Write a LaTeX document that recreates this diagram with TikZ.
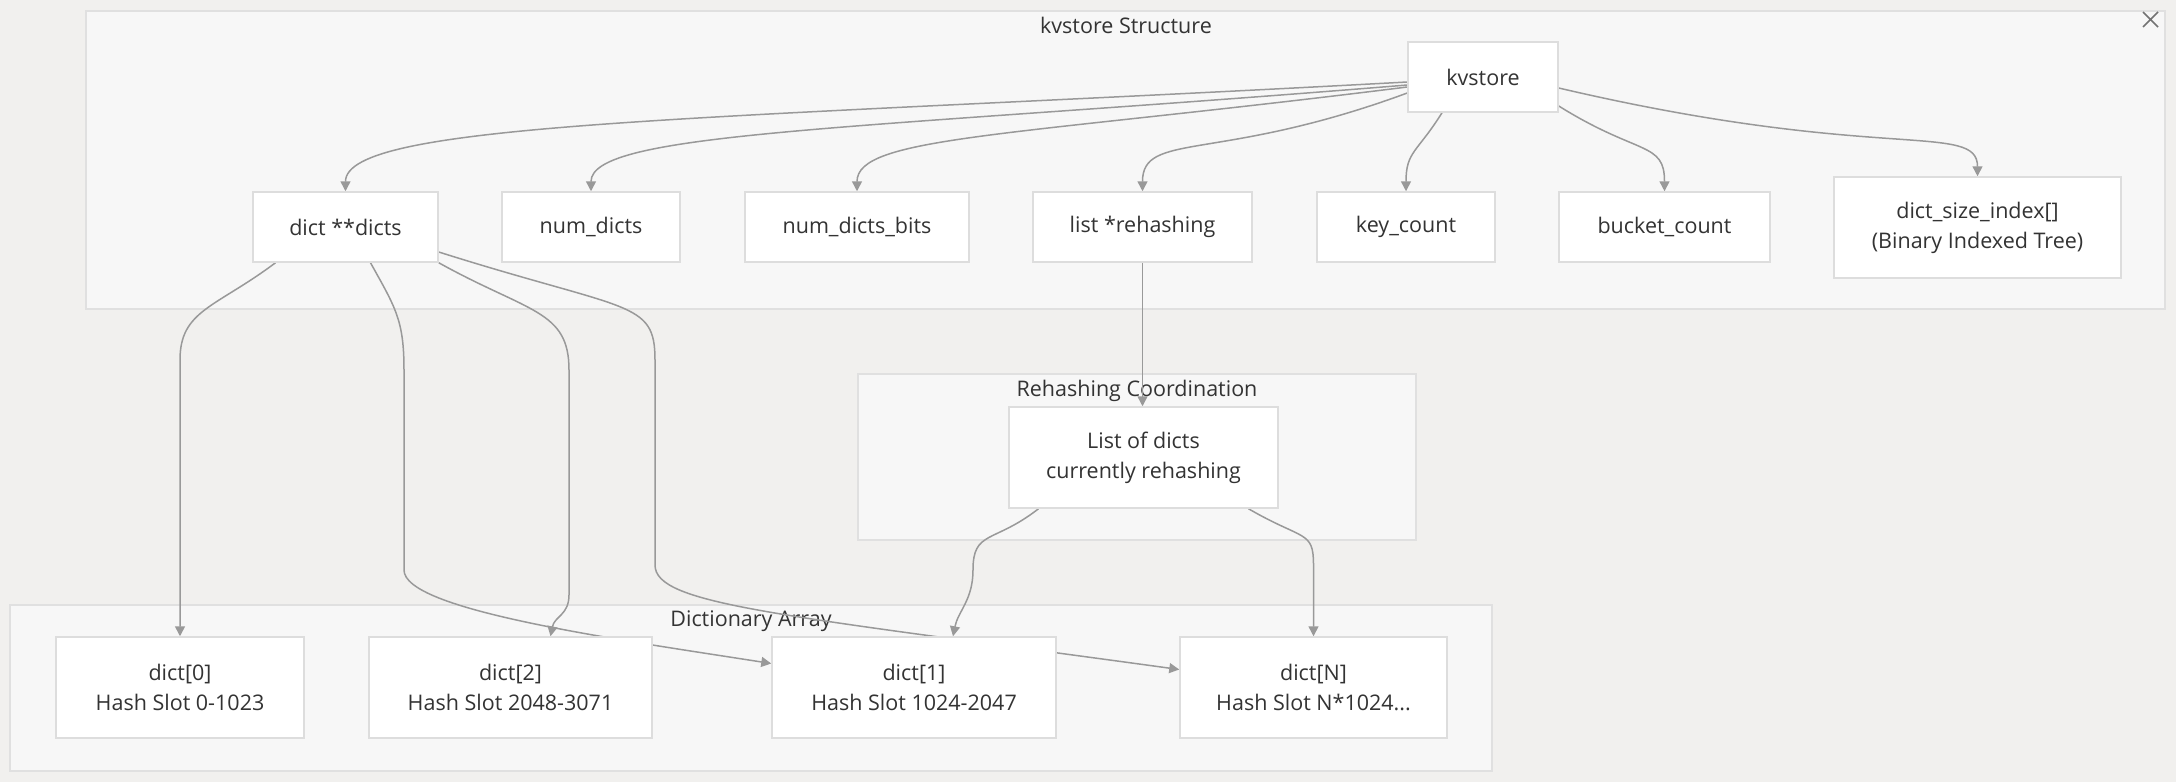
\documentclass[tikz,border=0pt]{standalone}
\usepackage{fontspec}
\setmainfont{Open Sans}
\usepackage{tikz}
\usetikzlibrary{calc,positioning}
\usetikzlibrary{arrows.meta}
\pgfdeclarelayer{boxes}
\pgfdeclarelayer{links}
\pgfsetlayers{boxes,links,main}
\definecolor{pagebg}{HTML}{F1F0EE}
\definecolor{clusterbg}{HTML}{F7F7F7}
\definecolor{clusterln}{HTML}{E0E0E0}
\definecolor{nodeln}{HTML}{DDDDDD}
\definecolor{linkc}{HTML}{999999}
\definecolor{txt}{HTML}{333333}
\tikzset{>={Triangle[length=10pt,width=10pt]}}

\begin{document}
\begin{tikzpicture}[x=1pt,y=-1pt,font=\fontsize{21.5}{30}\selectfont,text=txt]
          \tikzstyle{box} = [draw=nodeln, line width=1.5pt, fill=white, rectangle, inner sep=0pt, align=center, minimum height=70]
          \tikzstyle{tallbox} = [box, minimum height=101]
          \tikzstyle{cluster} = [draw=clusterln, line width=2pt, fill=clusterbg]
          \tikzstyle{link} = [draw=linkc, line width=1.5pt, ->]

          \begin{pgfonlayer}{boxes}
            \fill[pagebg] (0,0) rectangle (2176,782);
            \draw[cluster] (86,11) rectangle (2165,309);
            \draw[cluster] (858,374) rectangle (1416,540);
            \draw[cluster] (10,605) rectangle (1492,771);
            \node (kvtitle) at (1126,25) {kvstore Structure};
            \node (rhtitle) at (1137,391) {Rehashing Coordination};
            \node (datitle) at (751,621) {Dictionary Array};
            \draw[draw=black!55, line width=1.5pt] (2143,12) -- (2158,27) (2143,27) -- (2158,12);
          \end{pgfonlayer}
          \useasboundingbox (0,0) rectangle (2176,782);

          % kvstore fields
          \node[box, minimum width=150] (kv) at (1483,77) {kvstore};
          \node[box, minimum width=185] (dicts) at (345.5,227) {dict **dicts};
          \node[box, minimum width=178] (numd) at (591,227) {num\_dicts};
          \node[box, minimum width=224] (numb) at (857,227) {num\_dicts\_bits};
          \node[box, minimum width=219] (rehash) at (1142.5,227) {list *rehashing};
          \node[box, minimum width=178] (keyc) at (1406,227) {key\_count};
          \node[box, minimum width=211] (buckc) at (1664.5,227) {bucket\_count};
          \node[tallbox, minimum width=287] (sizeidx) at (1977.5,227.5) {dict\_size\_index[]\\(Binary Indexed Tree)};

          \node[tallbox, minimum width=269] (listd) at (1143.5,457.5) {List of dicts\\currently rehashing};

          % dictionary array
          \node[tallbox, minimum width=248] (d0) at (180,687.5) {dict[0]\\Hash Slot 0-1023};
          \node[tallbox, minimum width=283] (d2) at (510.5,687.5) {dict[2]\\Hash Slot 2048-3071};
          \node[tallbox, minimum width=284] (d1) at (914,687.5) {dict[1]\\Hash Slot 1024-2047};
          \node[tallbox, minimum width=267] (dN) at (1313.5,687.5) {dict[N]\\Hash Slot N*1024...};

          \begin{pgfonlayer}{links}
            \draw[link] ($(kv.west)+(0,5)$) .. controls +(-700,38) and +(0,-70) .. (dicts.north);
            \draw[link] ($(kv.west)+(0,8)$) .. controls +(-550,45) and +(0,-60) .. (numd.north);
            \draw[link] ($(kv.west)+(0,10)$) .. controls +(-400,50) and +(0,-55) .. (numb.north);
            \draw[link] ($(kv.west)+(0,16)$) .. controls +(-190,70) and +(0,-60) .. (rehash.north);
            \draw[link] ($(kv.south)+(-41,0)$) .. controls +(-25,40) and +(0,-40) .. (keyc.north);
            \draw[link] ($(kv.east)+(0,29)$) .. controls +(80,50) and +(0,-50) .. (buckc.north);
            \draw[link] ($(kv.east)+(0,11)$) .. controls +(320,75) and +(0,-55) .. (sizeidx.north);

            \draw[link] ($(dicts.south)+(-70,0)$) .. controls +(-60,45) and +(0,-50) .. (180,360) -- (d0.north);
            \draw[link] ($(dicts.south)+(25,0)$) .. controls +(25,45) and +(0,-50) .. (404,370) -- (404,570) .. controls +(0,40) and +(-160,-25) .. ($(d1.west)+(0,-24)$);
            \draw[link] (dicts.south east) .. controls +(90,50) and +(0,-60) .. (569,370) -- (569,595) .. controls +(0,20) and +(4,-20) .. ($(d2.north)+(40,0)$);
            \draw[link] ($(dicts.east)+(0,25)$) .. controls +(190,60) and +(0,-60) .. (655,360) -- (655,565) .. controls +(0,40) and +(-400,-55) .. ($(dN.west)+(0,-18)$);

            \draw[link] (rehash.south) -- (rehash.south |- listd.north);
            \draw[link] ($(listd.south)+(-105,0)$) .. controls +(-45,35) and +(0,-40) .. (973,570) .. controls +(0,30) and +(5,-25) .. ($(d1.north)+(39,0)$);
            \draw[link] ($(listd.south)+(105,0)$) .. controls +(55,32) and +(0,-35) .. (1313.5,565) -- (dN.north);
          \end{pgfonlayer}
        \end{tikzpicture}
\end{document}
